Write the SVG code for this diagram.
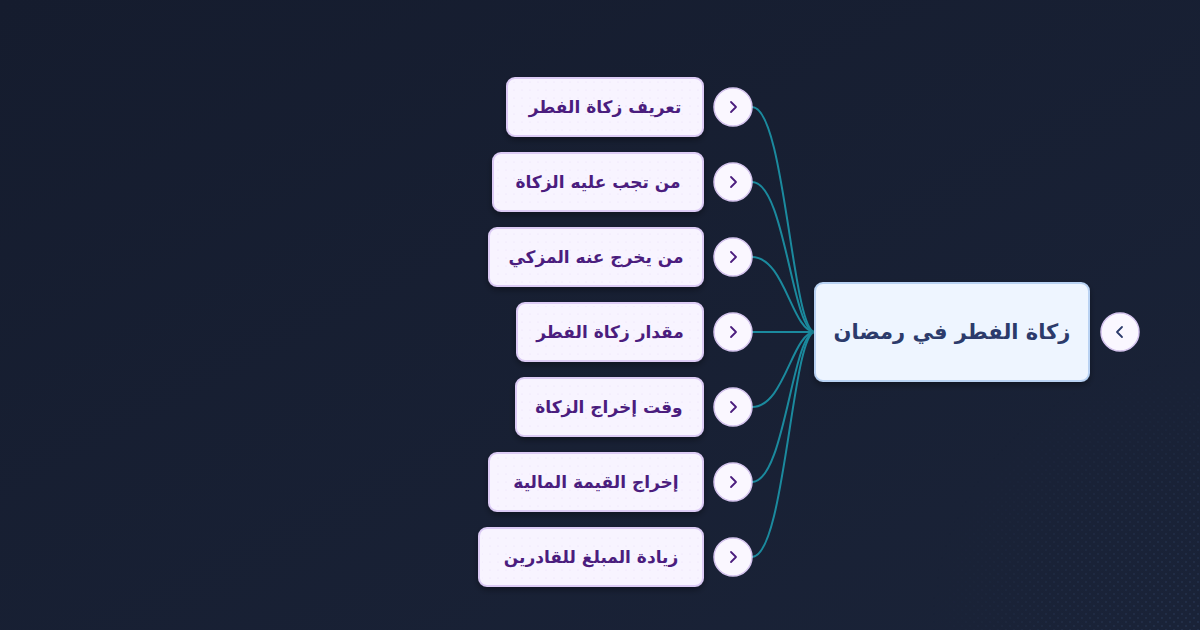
<svg xmlns="http://www.w3.org/2000/svg" width="1200" height="630" viewBox="0 0 1200 630">
  <defs>
    <linearGradient id="bg" x1="0" y1="0" x2="1" y2="1">
      <stop offset="0" stop-color="#151c2e"/>
      <stop offset="1" stop-color="#1a2338"/>
    </linearGradient>
    <pattern id="dots" width="8" height="8" patternUnits="userSpaceOnUse">
      <circle cx="2" cy="2" r="0.7" fill="#34476a"/>
      <circle cx="6" cy="6" r="0.7" fill="#34476a"/>
    </pattern>
    <radialGradient id="fade" cx="1200" cy="630" r="270" gradientUnits="userSpaceOnUse">
      <stop offset="0" stop-color="#fff" stop-opacity="0.9"/>
      <stop offset="0.55" stop-color="#fff" stop-opacity="0.5"/>
      <stop offset="1" stop-color="#fff" stop-opacity="0"/>
    </radialGradient>
    <mask id="m">
      <rect width="1200" height="630" fill="url(#fade)"/>
    </mask>
    <pattern id="boxdots" width="8" height="8" patternUnits="userSpaceOnUse">
      <circle cx="2" cy="2" r="0.6" fill="#e6dcf5"/>
    </pattern>
    <filter id="sh" x="-10%" y="-20%" width="120%" height="150%">
      <feDropShadow dx="0" dy="3" stdDeviation="3" flood-color="#000" flood-opacity="0.35"/>
    </filter>
  </defs>
  <style>
    .box { fill: #f8f4ff; stroke: #dccbf5; stroke-width: 2; }
    .boxd { fill: url(#boxdots); }
    .lbl { font-family: "DejaVu Sans", "Noto Sans", sans-serif; font-weight: bold; font-size: 17px; fill: #4b1d7e; text-anchor: middle; }
    .btn { fill: #faf7ff; stroke: #d6c5ef; stroke-width: 1.5; }
    .chev { fill: none; stroke: #4b1d7e; stroke-width: 1.8; stroke-linecap: round; stroke-linejoin: round; }
    .edge { fill: none; stroke: #1b8a9e; stroke-width: 2; }
    .root { fill: #eef5ff; stroke: #b9d2f3; stroke-width: 2; }
    .rlbl { font-family: "DejaVu Sans", "Noto Sans", sans-serif; font-weight: bold; font-size: 21px; fill: #2c3b6b; text-anchor: middle; }
  </style>
  <rect width="1200" height="630" fill="url(#bg)"/>
  <rect width="1200" height="630" fill="url(#dots)" mask="url(#m)"/>

  <g id="connectors">
    <path class="edge" d="M752,107 C785,107 792,332 815,332"/>
    <path class="edge" d="M752,182 C785,182 792,332 815,332"/>
    <path class="edge" d="M752,257 C785,257 792,332 815,332"/>
    <path class="edge" d="M752,332 L815,332"/>
    <path class="edge" d="M752,407 C785,407 792,332 815,332"/>
    <path class="edge" d="M752,482 C785,482 792,332 815,332"/>
    <path class="edge" d="M752,557 C785,557 792,332 815,332"/>
  </g>

  <g id="root">
    <rect class="root" x="815" y="283" width="274" height="98" rx="8" filter="url(#sh)"/>
    <text class="rlbl" x="952" y="339">زكاة الفطر في رمضان</text>
    <circle class="btn" cx="1120" cy="332" r="19"/>
    <path class="chev" d="M1122,327 L1117,332 L1122,337" style="stroke:#2c3b6b"/>
  </g>

  <g id="n1">
    <rect class="box" x="507" y="78" width="196" height="58" rx="8" filter="url(#sh)"/>
    <rect class="boxd" x="510" y="81" width="190" height="52" rx="6"/>
    <text class="lbl" x="605" y="113">تعريف زكاة الفطر</text>
    <circle class="btn" cx="733" cy="107" r="19"/>
    <path class="chev" d="M731,102 L736,107 L731,112"/>
  </g>
  <g id="n2">
    <rect class="box" x="493" y="153" width="210" height="58" rx="8" filter="url(#sh)"/>
    <rect class="boxd" x="496" y="156" width="204" height="52" rx="6"/>
    <text class="lbl" x="598" y="188">من تجب عليه الزكاة</text>
    <circle class="btn" cx="733" cy="182" r="19"/>
    <path class="chev" d="M731,177 L736,182 L731,187"/>
  </g>
  <g id="n3">
    <rect class="box" x="489" y="228" width="214" height="58" rx="8" filter="url(#sh)"/>
    <rect class="boxd" x="492" y="231" width="208" height="52" rx="6"/>
    <text class="lbl" x="596" y="263">من يخرج عنه المزكي</text>
    <circle class="btn" cx="733" cy="257" r="19"/>
    <path class="chev" d="M731,252 L736,257 L731,262"/>
  </g>
  <g id="n4">
    <rect class="box" x="517" y="303" width="186" height="58" rx="8" filter="url(#sh)"/>
    <rect class="boxd" x="520" y="306" width="180" height="52" rx="6"/>
    <text class="lbl" x="610" y="338">مقدار زكاة الفطر</text>
    <circle class="btn" cx="733" cy="332" r="19"/>
    <path class="chev" d="M731,327 L736,332 L731,337"/>
  </g>
  <g id="n5">
    <rect class="box" x="516" y="378" width="187" height="58" rx="8" filter="url(#sh)"/>
    <rect class="boxd" x="519" y="381" width="181" height="52" rx="6"/>
    <text class="lbl" x="609" y="413">وقت إخراج الزكاة</text>
    <circle class="btn" cx="733" cy="407" r="19"/>
    <path class="chev" d="M731,402 L736,407 L731,412"/>
  </g>
  <g id="n6">
    <rect class="box" x="489" y="453" width="214" height="58" rx="8" filter="url(#sh)"/>
    <rect class="boxd" x="492" y="456" width="208" height="52" rx="6"/>
    <text class="lbl" x="596" y="488">إخراج القيمة المالية</text>
    <circle class="btn" cx="733" cy="482" r="19"/>
    <path class="chev" d="M731,477 L736,482 L731,487"/>
  </g>
  <g id="n7">
    <rect class="box" x="479" y="528" width="224" height="58" rx="8" filter="url(#sh)"/>
    <rect class="boxd" x="482" y="531" width="218" height="52" rx="6"/>
    <text class="lbl" x="591" y="563">زيادة المبلغ للقادرين</text>
    <circle class="btn" cx="733" cy="557" r="19"/>
    <path class="chev" d="M731,552 L736,557 L731,562"/>
  </g>
</svg>
